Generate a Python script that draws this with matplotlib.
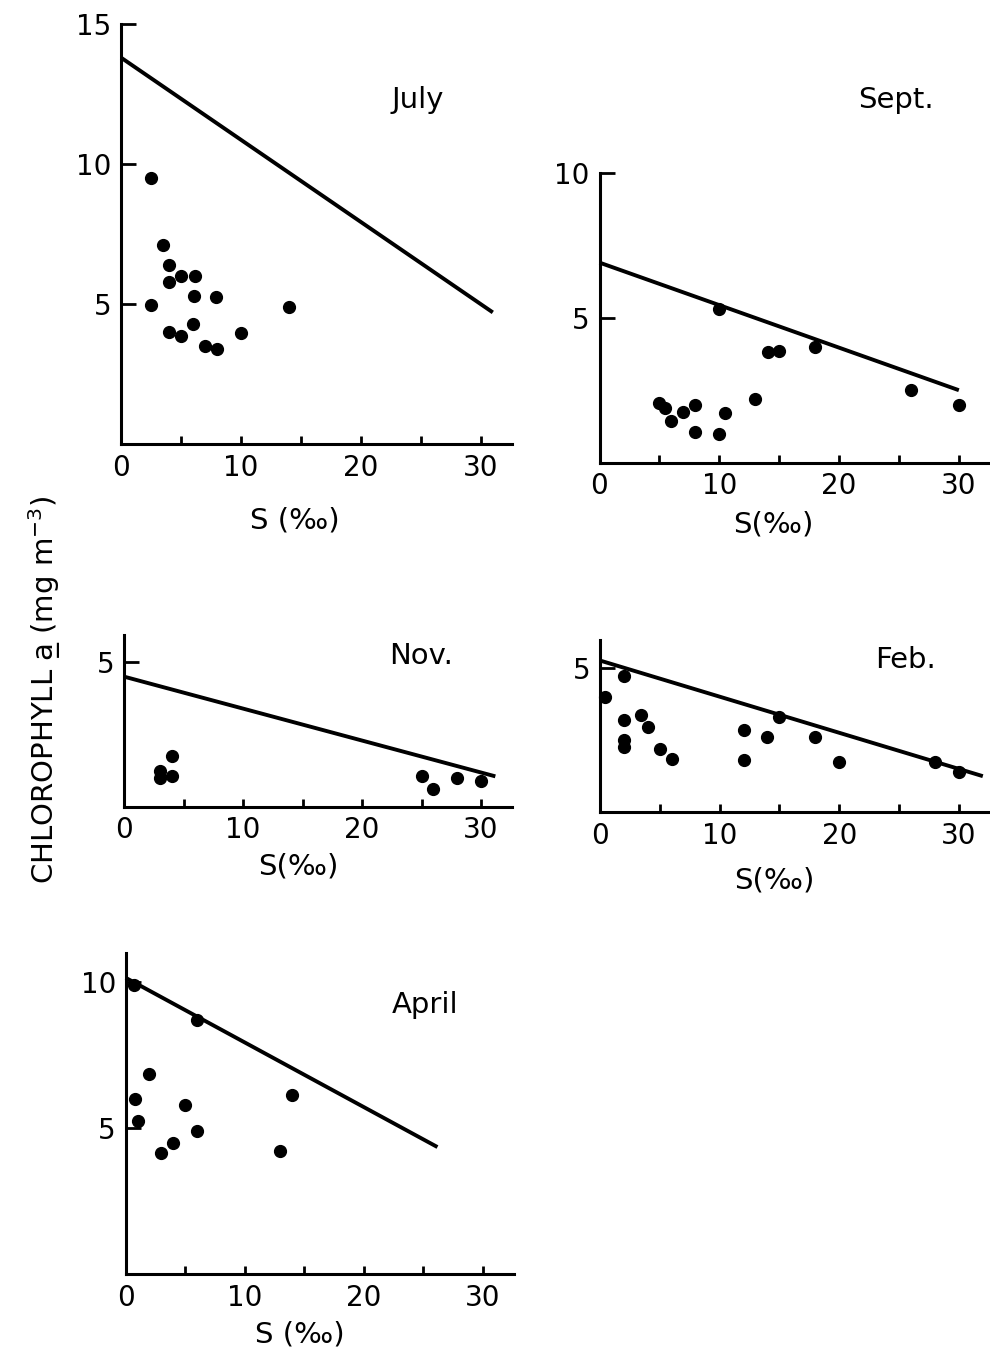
import numpy as np
import matplotlib
matplotlib.use("Agg")
import matplotlib.pyplot as plt

plt.rcParams['font.family'] = ['DejaVu Sans']

# salinity (x) and chlorophyll a (y)
jul_s = [2.5, 3.5, 4, 4, 5, 6.2, 6.1, 7.9, 2.5, 14, 4, 5, 6, 7, 8, 10]
jul_c = [9.5, 7.1, 6.4, 5.8, 6.0, 6.0, 5.3, 5.25, 4.95, 4.9, 4.0, 3.85, 4.3, 3.5, 3.4, 3.95]
jul_line = ([0, 31], [13.8, 4.7])

sep_s = [10, 14.1, 15, 18, 26, 30, 13, 5, 5.5, 6, 7, 8, 8, 10, 10.5]
sep_c = [5.3, 3.8, 3.85, 4.0, 2.5, 2.0, 2.2, 2.05, 1.9, 1.45, 1.75, 2.0, 1.05, 1.0, 1.7]
sep_line = ([0, 30], [6.9, 2.5])

nov_s = [3, 3, 4, 4, 25, 26, 28, 30]
nov_c = [1.25, 1.0, 1.75, 1.05, 1.05, 0.6, 1.0, 0.9]
nov_line = ([0, 31.2], [4.5, 1.05])

feb_s = [0.4, 2, 2, 2, 2, 3.4, 4, 5, 6, 12, 12, 14, 15, 18, 20, 28, 30]
feb_c = [4.0, 4.7, 3.2, 2.5, 2.25, 3.35, 2.95, 2.2, 1.85, 2.85, 1.8, 2.6, 3.3, 2.6, 1.75, 1.75, 1.4]
feb_line = ([0, 32], [5.25, 1.25])

apr_s = [0.7, 6, 2, 0.8, 1, 5, 6, 4, 3, 13, 14]
apr_c = [9.9, 8.7, 6.85, 6.0, 5.25, 5.8, 4.9, 4.5, 4.15, 4.2, 6.15]
apr_line = ([0, 26.2], [10.15, 4.35])

months = ['July', 'Sept.', 'Nov.', 'Feb.', 'April']

W, H = 990, 1352
fig = plt.figure(figsize=(W / 100, H / 100), dpi=100)


def px_axes(x0, x1, y0, y1):
    # pixel box -> figure fraction
    return fig.add_axes([x0 / W, 1 - y0 / H, (x1 - x0) / W, (y0 - y1) / H])


def panel(ax, s, c, line, ytop, yticks, title, tpos, xlab, xlab_y):
    ax.plot(line[0], line[1], color='black', lw=2.8, solid_capstyle='butt', clip_on=False)
    ax.plot(s, c, 'o', color='black', ms=8.5, clip_on=False)
    ax.set_xlim(0, 32.6)
    ax.set_ylim(0, ytop)
    for sp in ['top', 'right']:
        ax.spines[sp].set_visible(False)
    for sp in ['left', 'bottom']:
        ax.spines[sp].set_linewidth(2.2)
    ax.set_xticks([0, 5, 10, 15, 20, 25, 30])
    ax.set_xticklabels(['0', '', '10', '', '20', '', '30'])
    ax.set_yticks(yticks)
    ax.set_yticklabels([str(v) for v in yticks])
    ax.tick_params(axis='x', direction='in', length=6, width=2, labelsize=20, pad=7)
    ax.tick_params(axis='y', direction='in', length=11, width=2, labelsize=20, pad=7)
    ax.patch.set_alpha(0)
    fig.text(tpos[0] / W, 1 - tpos[1] / H, title, fontsize=21, ha='center', va='center')
    fig.text(ax.get_position().x0 + 14.5 * 12 / W, 1 - xlab_y / H, xlab,
             fontsize=21, ha='center', va='center')


ax1 = px_axes(121, 512, 444, 24)
panel(ax1, jul_s, jul_c, jul_line, 15, [5, 10, 15], months[0], (418, 100), 'S (‰)', 520)

ax2 = px_axes(599.5, 990, 462.7, 172.7)
panel(ax2, sep_s, sep_c, sep_line, 10, [5, 10], months[1], (896, 100), 'S(‰)', 524)

ax3 = px_axes(124, 512, 806.7, 635)
panel(ax3, nov_s, nov_c, nov_line, 5.94, [5], months[2], (421, 656), 'S(‰)', 866)

ax4 = px_axes(600, 990, 812.3, 640)
panel(ax4, feb_s, feb_c, feb_line, 5.96, [5], months[3], (906, 660), 'S(‰)', 880)

ax5 = px_axes(125.7, 513.6, 1274, 953)
panel(ax5, apr_s, apr_c, apr_line, 11.0, [5, 10], months[4], (425, 1005), 'S (‰)', 1334)

fig.text(45 / W, 1 - 690 / H, 'CHLOROPHYLL a\u0332 (mg m$^{-3}$)', fontsize=21,
         rotation=90, ha='center', va='center')

fig.savefig('out.png', dpi=100)
